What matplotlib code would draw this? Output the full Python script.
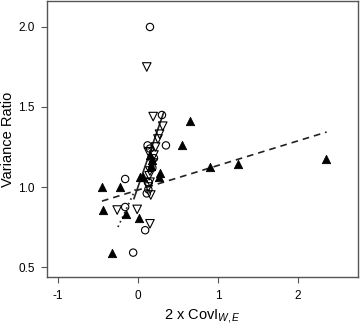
import matplotlib
matplotlib.use("Agg")
import matplotlib.pyplot as plt
import numpy as np

plt.rcParams['font.family'] = ['Liberation Sans', 'DejaVu Sans']
plt.rcParams['mathtext.fontset'] = 'custom'
plt.rcParams['mathtext.rm'] = 'Liberation Sans'
plt.rcParams['mathtext.it'] = 'Liberation Sans:italic'

# Open circles
circ_x = [0.15, -0.06, -0.16, -0.16, 0.09, 0.30, 0.35, 0.12, 0.15, 0.13, 0.13, 0.11, 0.20, 0.18]
circ_y = [2.00, 0.59, 1.05, 0.875, 0.73, 1.45, 1.26, 1.26, 1.24, 1.03, 0.985, 0.96, 1.18, 1.12]

# Open inverted triangles
itri_x = [0.11, 0.19, 0.31, 0.27, 0.25, 0.22, 0.20, 0.18, 0.15, 0.14, 0.15, 0.13, 0.16, 0.15, -0.26, -0.01, 0.13]
itri_y = [1.75, 1.44, 1.38, 1.33, 1.30, 1.25, 1.20, 1.15, 1.10, 1.07, 1.03, 1.00, 0.95, 0.77, 0.856, 0.86, 1.22]

# Filled triangles
ftri_x = [-0.45, -0.225, -0.44, -0.325, 0.025, 0.06, -0.15, 0.01, 0.28, 0.26, 0.16, 0.65, 0.55, 0.90, 1.25, 2.35, 0.15, 0.17]
ftri_y = [1.00, 1.00, 0.856, 0.59, 1.06, 1.06, 0.83, 0.806, 1.09, 1.06, 1.13, 1.41, 1.26, 1.125, 1.144, 1.175, 1.20, 1.17]

# Regression lines: (intercept, slope, x range)
dash_line = (0.981, 0.1536, (-0.45, 2.36))
solid_line = (1.0, 1.45, (-0.05, 0.32))
dot_line = (1.02, 1.08, (-0.25, -0.02))

xticks = [-1, 0, 1, 2]
yticks = [0.5, 1.0, 1.5, 2.0]

fig = plt.figure(figsize=(3.6, 3.24), dpi=100)
ax = fig.add_axes([0.1306, 0.145, 0.8634, 0.852])

ax.scatter(ftri_x, ftri_y, marker='^', s=36, facecolor='black', edgecolor='black', linewidth=0.6, zorder=3)
ax.scatter(circ_x, circ_y, marker='o', s=28, facecolor='none', edgecolor='black', linewidth=0.8, zorder=3)
ax.scatter(itri_x, itri_y, marker='v', s=38, facecolor='none', edgecolor='black', linewidth=0.8, zorder=3)

for (b, m, (x0, x1)), ls in [(dash_line, (0, (4, 3))), (solid_line, '-'), (dot_line, (0, (1, 2)))]:
    xs = np.array([x0, x1])
    ax.plot(xs, b + m * xs, color='#222222', linestyle=ls, linewidth=1.2, zorder=2)

ax.set_xlim(-1.1375, 2.75)
ax.set_ylim(0.4375, 2.1625)
ax.set_xticks(xticks)
ax.set_xticklabels(['-1', '0', '1', '2'])
ax.set_yticks(yticks)
ax.set_yticklabels(['0.5', '1.0', '1.5', '2.0'])
ax.tick_params(direction='out', length=4, width=0.8, color='#555555', labelsize=8.5, pad=5)
for sp in ax.spines.values():
    sp.set_color('#555555')
    sp.set_linewidth(1.0)

ax.set_xlabel(r'2 x CovI$_{W,E}$', fontsize=10.5, labelpad=4)
ax.set_ylabel('Variance Ratio', fontsize=10.5, labelpad=2)

fig.savefig('out.png', dpi=100)
